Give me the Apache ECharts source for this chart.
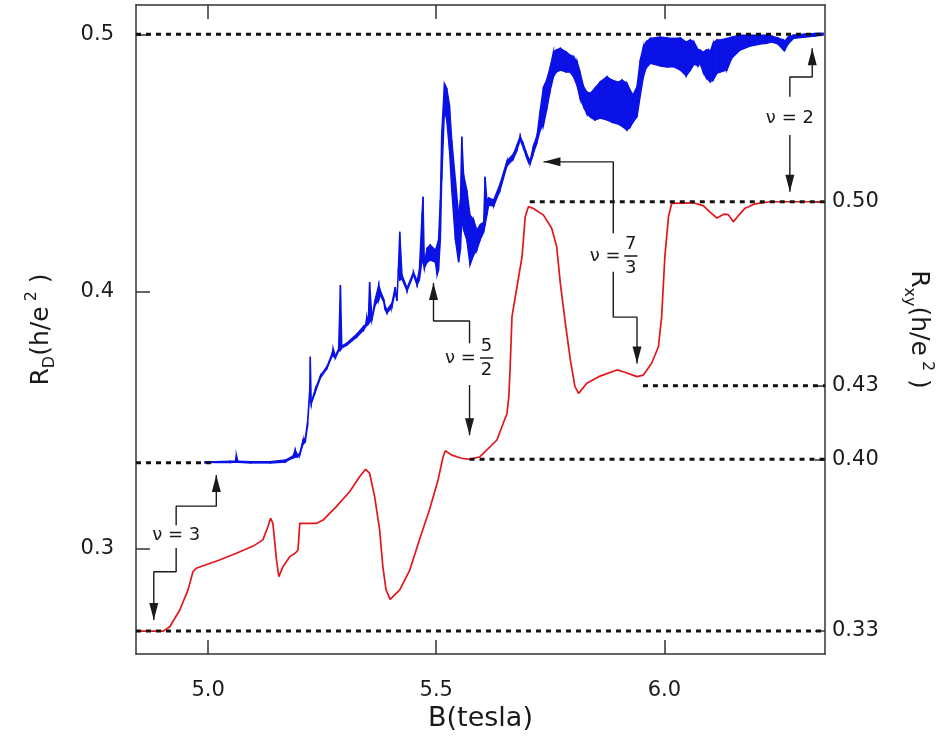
<!DOCTYPE html>
<html><head><meta charset="utf-8">
<script src="https://cdn.jsdelivr.net/npm/echarts@6/dist/echarts.min.js"></script>
<style>html,body{margin:0;padding:0;background:#fff}#c{width:949px;height:740px}</style>
</head><body><div id="c"></div>
<script>
// ---------- data (B in tesla, resistances in h/e^2) ----------
const xTicks = [5.0, 5.5, 6.0];
const rdTicks = [0.3, 0.4, 0.5];
const rxyTicks = [1/3, 2/5, 3/7, 1/2];

// blue trace R_D: [B, lower edge of noisy band, upper edge of noisy band]
const blueTrace = [
[4.993,0.3333,0.3338],[5.016,0.3335,0.3338],[5.049,0.3335,0.3340],[5.060,0.3336,0.3340],
[5.062,0.3336,0.3364],[5.065,0.3336,0.3340],[5.093,0.3333,0.3338],[5.136,0.3333,0.3338],
[5.169,0.3336,0.3344],[5.180,0.3348,0.3354],[5.186,0.3352,0.3360],[5.191,0.3356,0.3383],
[5.196,0.3356,0.3364],[5.201,0.3364,0.3371],[5.208,0.3406,0.3422],[5.213,0.3414,0.3430],
[5.218,0.3476,0.3492],[5.223,0.3609,0.3629],[5.224,0.3578,0.3746],[5.226,0.3562,0.3570],
[5.235,0.3609,0.3620],[5.246,0.3663,0.3671],[5.261,0.3702,0.3710],[5.272,0.3749,0.3760],
[5.274,0.3749,0.3779],[5.279,0.3741,0.3749],[5.286,0.3768,0.3776],[5.290,0.3772,0.4025],
[5.293,0.3780,0.3788],[5.304,0.3791,0.3799],[5.326,0.3823,0.3834],[5.341,0.3850,0.3865],
[5.345,0.3862,0.3869],[5.348,0.3869,0.3902],[5.351,0.3873,0.3881],[5.354,0.3881,0.4037],
[5.359,0.3889,0.3897],[5.366,0.3947,0.3967],[5.374,0.3967,0.4025],[5.377,0.3986,0.4005],
[5.385,0.3959,0.3970],[5.388,0.3928,0.3943],[5.392,0.3916,0.3928],[5.403,0.3939,0.3955],
[5.410,0.3998,0.4017],[5.414,0.3963,0.3974],[5.417,0.4075,0.4091],[5.420,0.4044,0.4232],
[5.425,0.4048,0.4064],[5.436,0.4002,0.4013],[5.450,0.4064,0.4075],[5.458,0.4025,0.4040],
[5.463,0.4044,0.4083],[5.469,0.4122,0.4305],[5.471,0.4114,0.4368],[5.474,0.4091,0.4107],
[5.480,0.4114,0.4169],[5.487,0.4122,0.4180],[5.498,0.4114,0.4161],[5.502,0.4064,0.4180],
[5.505,0.4083,0.4200],[5.509,0.4200,0.4356],[5.512,0.4433,0.4616],[5.518,0.4706,0.4809],
[5.523,0.4667,0.4791],[5.529,0.4550,0.4725],[5.534,0.4394,0.4589],[5.542,0.4200,0.4433],
[5.549,0.4114,0.4297],[5.553,0.4161,0.4356],[5.556,0.4278,0.4602],[5.560,0.4239,0.4453],
[5.567,0.4200,0.4394],[5.574,0.4103,0.4297],[5.582,0.4142,0.4278],[5.589,0.4161,0.4239],
[5.596,0.4200,0.4258],[5.604,0.4231,0.4270],[5.607,0.4258,0.4446],[5.611,0.4297,0.4356],
[5.615,0.4336,0.4363],[5.626,0.4332,0.4356],[5.640,0.4394,0.4418],[5.655,0.4488,0.4507],
[5.669,0.4515,0.4534],[5.677,0.4550,0.4569],[5.684,0.4589,0.4604],[5.691,0.4558,0.4573],
[5.697,0.4527,0.4542],[5.702,0.4503,0.4519],[5.706,0.4496,0.4511],[5.712,0.4531,0.4558],
[5.721,0.4581,0.4608],[5.728,0.4628,0.4706],[5.735,0.4647,0.4795],[5.742,0.4706,0.4822],
[5.750,0.4783,0.4874],[5.757,0.4835,0.4932],[5.763,0.4853,0.4939],[5.772,0.4861,0.4946],
[5.785,0.4853,0.4931],[5.793,0.4853,0.4919],[5.801,0.4835,0.4913],[5.809,0.4799,0.4892],
[5.815,0.4752,0.4853],[5.823,0.4718,0.4796],[5.830,0.4690,0.4776],[5.838,0.4678,0.4771],
[5.848,0.4667,0.4791],[5.859,0.4674,0.4814],[5.874,0.4667,0.4835],[5.885,0.4658,0.4822],
[5.899,0.4651,0.4814],[5.907,0.4643,0.4822],[5.918,0.4628,0.4809],[5.925,0.4639,0.4783],
[5.931,0.4658,0.4764],[5.940,0.4679,0.4796],[5.947,0.4760,0.4900],[5.954,0.4835,0.4952],
[5.960,0.4869,0.4970],[5.969,0.4887,0.4984],[5.991,0.4877,0.4989],[6.006,0.4873,0.4986],
[6.020,0.4874,0.4984],[6.035,0.4861,0.4986],[6.048,0.4838,0.4970],[6.057,0.4861,0.4978],
[6.065,0.4884,0.4970],[6.074,0.4877,0.4939],[6.078,0.4887,0.4939],[6.085,0.4853,0.4931],
[6.092,0.4830,0.4939],[6.097,0.4822,0.4939],[6.100,0.4816,0.4931],[6.107,0.4822,0.4966],
[6.115,0.4848,0.4978],[6.122,0.4853,0.4978],[6.137,0.4861,0.4984],[6.148,0.4908,0.4989],
[6.166,0.4939,0.4997],[6.188,0.4954,0.4997],[6.209,0.4962,0.4997],[6.224,0.4965,0.4997],
[6.236,0.4970,0.4993],[6.249,0.4962,0.4986],[6.261,0.4939,0.4978],[6.264,0.4939,0.4974],
[6.271,0.4962,0.4989],[6.283,0.4984,0.4997],[6.308,0.4989,0.5001],[6.330,0.4993,0.5003],
[6.348,0.4997,0.5004]
];

// red trace R_xy: B values and R_xy values
const redB = [4.843,4.902,4.916,4.938,4.956,4.967,4.974,5.025,5.062,5.099,5.120,5.131,5.137,5.142,5.150,5.155,5.164,5.179,5.192,5.197,5.201,5.208,5.237,5.252,5.281,5.310,5.332,5.345,5.354,5.365,5.376,5.383,5.390,5.399,5.420,5.442,5.463,5.485,5.504,5.515,5.520,5.533,5.555,5.574,5.596,5.633,5.655,5.659,5.662,5.666,5.677,5.688,5.695,5.702,5.713,5.735,5.753,5.764,5.772,5.783,5.794,5.804,5.812,5.830,5.859,5.896,5.910,5.940,5.954,5.972,5.987,5.994,6.001,6.009,6.016,6.063,6.085,6.100,6.115,6.131,6.140,6.151,6.162,6.177,6.199,6.232,6.352];
const redRxy = [0.3333,0.3333,0.3350,0.3415,0.3493,0.3564,0.3577,0.3609,0.3635,0.3663,0.3687,0.3738,0.3771,0.3751,0.3609,0.3544,0.3583,0.3622,0.3637,0.3648,0.3751,0.3751,0.3751,0.3764,0.3816,0.3874,0.3932,0.3961,0.3946,0.3855,0.3725,0.3583,0.3493,0.3456,0.3493,0.3570,0.3687,0.3803,0.3920,0.4010,0.4033,0.4017,0.4004,0.4000,0.4010,0.4075,0.4178,0.4243,0.4359,0.4554,0.4670,0.4786,0.4942,0.4981,0.4974,0.4948,0.4897,0.4825,0.4683,0.4528,0.4385,0.4282,0.4256,0.4295,0.4323,0.4347,0.4340,0.4321,0.4327,0.4373,0.4437,0.4554,0.4786,0.4942,0.4994,0.4996,0.4985,0.4960,0.4937,0.4952,0.4950,0.4922,0.4946,0.4975,0.4992,0.5000,0.5000];

// dashed quantized levels: axis 0 = R_D (left), axis 1 = R_xy (right)
const levels = [
  {axis:0, v:0.5, from:4.842, to:6.352},
  {axis:0, v:1/3, from:4.842, to:5.010},
  {axis:1, v:2/5, from:5.573, to:6.352},
  {axis:1, v:1/3, from:4.842, to:6.352},
  {axis:1, v:1/2, from:5.705, to:6.352},
  {axis:1, v:3/7, from:5.953, to:6.352}
];

// annotation leader lines (B, R_D)
const leaders = [
  [[4.930,0.3091],[4.930,0.3165],[5.018,0.3165],[5.018,0.3286]],
  [[4.930,0.3002],[4.930,0.2910],[4.881,0.2910],[4.881,0.2722]],
  [[5.573,0.3799],[5.573,0.3885],[5.494,0.3885],[5.494,0.4033]],
  [[5.573,0.3636],[5.573,0.3441]],
  [[5.888,0.4226],[5.888,0.4504],[5.735,0.4504]],
  [[5.888,0.4077],[5.888,0.3900],[5.940,0.3900],[5.940,0.3720]],
  [[6.275,0.4757],[6.275,0.4834],[6.324,0.4834],[6.324,0.4946]],
  [[6.275,0.4608],[6.275,0.4388]],
  [[5.596,0.3741],[5.625,0.3741]],
  [[5.912,0.4138],[5.941,0.4138]]
];
// arrow tips (B, R_D, direction)
const arrowTips = [
  [5.018,0.3286,'up'],[4.881,0.2722,'down'],[5.494,0.4033,'up'],[5.573,0.3441,'down'],
  [5.735,0.4504,'left'],[5.940,0.3720,'down'],[6.324,0.4946,'up'],[6.275,0.4388,'down']
];
// annotation texts (B, R_D)
const notes = [
  ['ν = 3',4.930,0.3053],['ν =',5.553,0.3741],['5',5.610,0.3788],['2',5.610,0.3692],
  ['ν =',5.870,0.4138],['7',5.926,0.4185],['3',5.926,0.4089],['ν = 2',6.275,0.4673]
];

// ---------- chart ----------
const BLUE = '#0a12e6', RED = '#e3161c', INK = '#1a1a1a';
const FONT = 'DejaVu Sans';
const XMIN = 4.842, XMAX = 6.352;

const series = [];
series.push({
  type:'custom', name:'RD', xAxisIndex:0, yAxisIndex:0, z:2, clip:true,
  data: blueTrace,
  encode:{x:0, y:[1,2]},
  renderItem:function(params, api){
    const i = params.dataIndex;
    if (i >= blueTrace.length - 1) return null;
    const a = blueTrace[i], b = blueTrace[i+1];
    const pts = [api.coord([a[0],a[1]]), api.coord([b[0],b[1]]), api.coord([b[0],b[2]]), api.coord([a[0],a[2]])];
    return {type:'polygon', shape:{points:pts}, style:{fill:BLUE, stroke:BLUE, lineWidth:1.4}};
  }
});
series.push({
  type:'line', name:'Rxy', xAxisIndex:0, yAxisIndex:1, z:3,
  data: redB.map((b,i)=>[b, redRxy[i]]),
  showSymbol:false, symbol:'none', lineStyle:{color:RED, width:1.7}, animation:false
});
levels.forEach(l=>{
  series.push({type:'line', xAxisIndex:0, yAxisIndex:l.axis, z:4, symbol:'none', silent:true,
    data:[[l.from,l.v],[l.to,l.v]], lineStyle:{color:'#111', width:3, type:[5,5]}, animation:false});
});
leaders.forEach(p=>{
  series.push({type:'line', xAxisIndex:0, yAxisIndex:0, z:5, symbol:'none', silent:true,
    data:p, lineStyle:{color:INK, width:1.4}, animation:false});
});
const arrowShapes = {
  up:{symbol:'path://M5,0L10,17L0,17Z', symbolSize:[9,17], symbolOffset:[0,8.5]},
  down:{symbol:'path://M0,0L10,0L5,17Z', symbolSize:[9,17], symbolOffset:[0,-8.5]},
  left:{symbol:'path://M0,5L17,0L17,10Z', symbolSize:[17,9], symbolOffset:[8.5,0]}
};
series.push({type:'scatter', xAxisIndex:0, yAxisIndex:0, z:6, silent:true, animation:false,
  itemStyle:{color:INK, opacity:1},
  data: arrowTips.map(a=>Object.assign({value:[a[0],a[1]]}, arrowShapes[a[2]]))
});
series.push({type:'scatter', xAxisIndex:0, yAxisIndex:0, z:6, silent:true, animation:false,
  symbolSize:1, itemStyle:{color:'rgba(0,0,0,0)', opacity:1},
  label:{show:true, position:'inside', formatter:p=>p.name, color:INK, fontSize:18, fontFamily:FONT, opacity:1},
  data: notes.map(n=>({name:n[0], value:[n[1],n[2]]}))
});

const axisLine = {show:true, onZero:false, lineStyle:{color:'#333', width:1.5}};
const tickStyle = {color:'#333', width:1.5};
const richName = {
  r:{fontSize:25, fontFamily:FONT, color:INK, lineHeight:34, verticalAlign:'middle'},
  s:{fontSize:16, fontFamily:FONT, color:INK, lineHeight:16, verticalAlign:'bottom'},
  p:{fontSize:16, fontFamily:FONT, color:INK, lineHeight:16, verticalAlign:'top'}
};

const option = {
  backgroundColor:'#fff',
  animation:false,
  grid:{left:136, right:124, top:5, bottom:86, containLabel:false},
  xAxis:[
    {type:'value', min:XMIN, max:XMAX, position:'bottom', axisLine:axisLine,
     axisTick:{show:true, inside:true, length:14, customValues:xTicks, lineStyle:tickStyle},
     axisLabel:{show:true, customValues:xTicks, formatter:v=>v.toFixed(1), margin:26, fontSize:21, color:INK, fontFamily:FONT},
     splitLine:{show:false},
     name:'B(tesla)', nameLocation:'middle', nameGap:51,
     nameTextStyle:{fontSize:27, color:INK, fontFamily:FONT}},
    {type:'value', min:XMIN, max:XMAX, position:'top', axisLine:axisLine,
     axisTick:{show:true, inside:true, length:14, customValues:xTicks, lineStyle:tickStyle},
     axisLabel:{show:false}, splitLine:{show:false}}
  ],
  yAxis:[
    {type:'value', min:0.2590, max:0.5114, position:'left', axisLine:axisLine,
     axisTick:{show:true, inside:true, length:14, customValues:rdTicks, lineStyle:tickStyle},
     axisLabel:{show:true, customValues:rdTicks, formatter:v=>v.toFixed(1), margin:22, fontSize:21, color:INK, fontFamily:FONT},
     splitLine:{show:false},
     name:'{r|R}{s|D}{r|(h/e}{p| 2}{r| )}', nameLocation:'middle', nameGap:78, nameRotate:90,
     nameTextStyle:{color:INK, fontFamily:FONT, fontSize:25, rich:richName}},
    {type:'value', min:0.3244, max:0.5764, position:'right', axisLine:axisLine,
     axisTick:{show:true, inside:true, length:10, customValues:rxyTicks, lineStyle:tickStyle},
     axisLabel:{show:true, customValues:rxyTicks, formatter:v=>v.toFixed(2), margin:7, fontSize:21, color:INK, fontFamily:FONT},
     splitLine:{show:false},
     name:'{r|R}{s|xy}{r|(h/e}{p| 2}{r| )}', nameLocation:'middle', nameGap:76, nameRotate:-90,
     nameTextStyle:{color:INK, fontFamily:FONT, fontSize:25, rich:richName}}
  ],
  series: series
};
const chart = echarts.init(document.getElementById('c'), null, {renderer:'canvas'});
chart.setOption(option);
</script>
</body></html>
